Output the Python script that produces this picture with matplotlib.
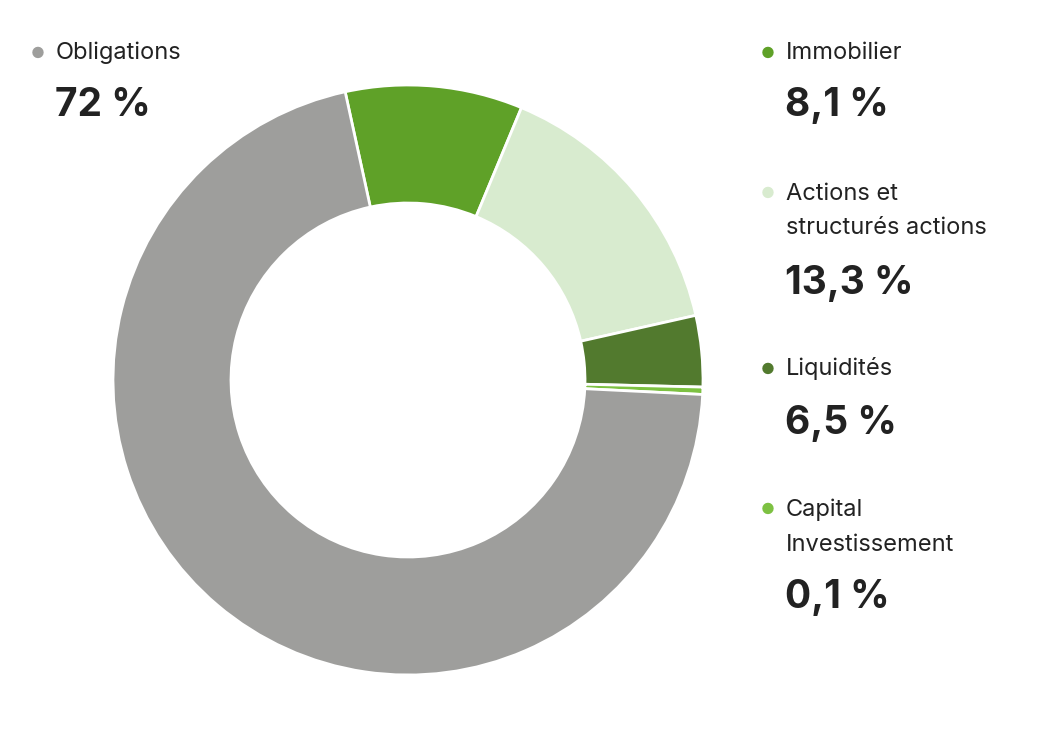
import matplotlib.pyplot as plt

slice_names = ["Immobilier", "Actions et\nstructurés actions", "Liquidités",
               "Capital\nInvestissement", "Obligations"]
slice_shares = [9.7, 15.2, 3.9, 0.4, 70.8]
slice_colors = ["#5fa128", "#d8ebcf", "#527a2e", "#7dc142", "#9e9e9c"]

# legend texts as printed
legend_pct = ["8,1 %", "13,3 %", "6,5 %", "0,1 %", "72 %"]

plt.rcParams['font.family'] = ['Inter', 'DejaVu Sans']

W, H = 1060, 730
fig = plt.figure(figsize=(W / 100, H / 100), dpi=100)
ax = fig.add_axes([113 / W, 1 - 675 / H, 590 / W, 590 / H])
ax.pie(slice_shares, colors=slice_colors, startangle=102.3, counterclock=False,
       wedgeprops=dict(width=0.40, edgecolor="white", linewidth=2))
ax.set_xlim(-1, 1)
ax.set_ylim(-1, 1)
ax.set_aspect("equal")
ax.axis("off")


def px(x, y):
    return x / W, 1 - y / H


# legend entries: (dot x, name y, pct y)
spots = [(768, 53, 105), (768, 211, 283), (768, 369, 423), (768, 527, 598), (38, 53, 105)]
for i, (dx, ny, py) in enumerate(spots):
    n_lines = slice_names[i].count("\n")
    dot_y = ny - n_lines * 18
    fig.text(*px(dx, dot_y), "●", color=slice_colors[i], fontsize=11,
             ha="center", va="center")
    fig.text(*px(dx + 18, ny), slice_names[i], fontsize=17, color="#222222",
             ha="left", va="center", linespacing=1.75)
    fig.text(*px(dx + 17, py), legend_pct[i], fontsize=28, fontweight="bold",
             color="#222222", ha="left", va="center")

fig.savefig("out.png", dpi=100, facecolor="white")
